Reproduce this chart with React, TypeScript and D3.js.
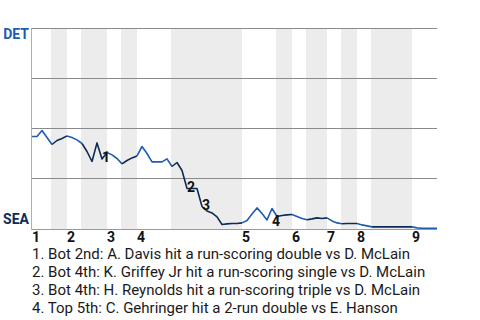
import React from 'react';
import * as d3 from 'd3';

// ---- data ----
const innings = ['1', '2', '3', '4', '5', '6', '7', '8', '9'];
// plate-appearance index where each inning (top half) starts
const inningStart = [0, 7, 15, 21, 42, 52, 59, 65, 76];
// plate-appearance index where each bottom half starts
const bottomStart = [4, 10, 18, 28, 49, 55, 62, 68];
const lastStep = 81;
const teams = ['DET', 'SEA'];
// DET win probability (%) after each plate appearance
const detWinPct = [
  46, 46, 49, 45.5, 42, 44, 45, 46.3, 45.5, 44.3,
  42.5, 38.5, 33.5, 42.8, 34.8, 38, 36.8, 35, 32.3, 34,
  35.3, 36.3, 41, 37.5, 33.3, 33.3, 33.3, 34.8, 31, 33,
  29, 20, 20, 20, 11, 8.8, 7.8, 5.8, 2, 2.3,
  2.5, 2.5, 2.8, 4, 7.2, 10.3, 7.5, 4.3, 10, 6,
  6.5, 6.8, 7, 6, 5, 4.4, 4.8, 5.3, 5, 5.3,
  3.8, 2.8, 2.4, 2.5, 2.5, 2.5, 1.8, 1.3, 0.8, 0.8,
  0.8, 0.8, 0.8, 0.8, 0.8, 0.8, 0.8, 0.3, 0.1, 0.1,
  0.1, 0.1,
];
const eventIndex = [14, 31, 34, 48];
const eventText = [
  '1. Bot 2nd: A. Davis hit a run-scoring double vs D. McLain',
  '2. Bot 4th: K. Griffey Jr hit a run-scoring single vs D. McLain',
  '3. Bot 4th: H. Reynolds hit a run-scoring triple vs D. McLain',
  '4. Top 5th: C. Gehringer hit a 2-run double vs E. Hanson',
];
const teamColors = ['#1f5cb4', '#0c2c56'];
const gridPct = [100, 75, 50, 25];

export default function App() {
  const W = 480;
  const H = 320;
  const x = d3.scaleLinear().domain([0, lastStep]).range([32, 437]);
  const y = d3.scaleLinear().domain([0, 100]).range([228.5, 28.5]);
  const line = d3
    .line<[number, number]>()
    .x((d) => x(d[0]))
    .y((d) => y(d[1]));

  // half-innings
  const halves: { s: number; e: number; top: boolean }[] = [];
  const starts: { k: number; top: boolean }[] = [];
  inningStart.forEach((k) => starts.push({ k, top: true }));
  bottomStart.forEach((k) => starts.push({ k, top: false }));
  starts.sort((a, b) => a.k - b.k);
  starts.forEach((st, i) => {
    const e = i + 1 < starts.length ? starts[i + 1].k : lastStep;
    halves.push({ s: st.k, e, top: st.top });
  });

  const font = 'Roboto, "Noto Sans", sans-serif';

  return (
    <svg
      width={W}
      height={H}
      style={{ position: 'absolute', left: 0, top: 0, background: '#fff' }}
      fontFamily={font}
    >
      {/* bottom-half bands */}
      {bottomStart.map((k, i) => (
        <rect
          key={'b' + i}
          x={x(k) - 1}
          y={y(100) - 0.5}
          width={x(inningStart[i + 1]) - x(k) + 1}
          height={y(0) - y(100) + 1.5}
          fill="#ececec"
        />
      ))}
      {/* grid */}
      {gridPct.map((p) => (
        <line key={p} x1={31} x2={437} y1={y(p)} y2={y(p)} stroke="#8a8a8a" strokeWidth={1} />
      ))}
      <line x1={31} x2={437} y1={y(0) + 1} y2={y(0) + 1} stroke="#9a9a9a" strokeWidth={1} />
      <line x1={31.5} x2={31.5} y1={y(100)} y2={y(0) + 1.5} stroke="#b0b0b0" strokeWidth={1} />

      {/* win probability line */}
      {halves.map((h, i) => {
        const pts: [number, number][] = [];
        for (let k = h.s; k <= h.e; k++) pts.push([k, detWinPct[k]]);
        return (
          <path
            key={'h' + i}
            d={line(pts) || ''}
            fill="none"
            stroke={h.top ? teamColors[0] : teamColors[1]}
            strokeWidth={1.6}
            strokeLinejoin="round"
          />
        );
      })}

      {/* event markers */}
      {eventIndex.map((k, i) => {
        const rise = detWinPct[k] > detWinPct[k - 1];
        return (
          <text
            key={'e' + i}
            x={x(k)}
            y={y(detWinPct[k]) + (rise ? 17 : 3.5)}
            fontSize={14}
            fontWeight="bold"
            fill="#111"
          >
            {String(i + 1)}
          </text>
        );
      })}

      {/* team labels */}
      <text x={29} y={39} textAnchor="end" fontSize={14} fontWeight="bold" fill={teamColors[0]}>
        {teams[0]}
      </text>
      <text x={29} y={224.3} textAnchor="end" fontSize={14} fontWeight="bold" fill={teamColors[1]}>
        {teams[1]}
      </text>

      {/* inning labels */}
      {innings.map((lab, i) => (
        <text key={'i' + i} x={x(inningStart[i])} y={242} fontSize={14} fontWeight="bold" fill="#111">
          {lab}
        </text>
      ))}

      {/* legend */}
      {eventText.map((t, i) => (
        <text key={'l' + i} x={32} y={258.5 + i * 18} fontSize={15} fill="#1a1a1a">
          {t}
        </text>
      ))}
    </svg>
  );
}
